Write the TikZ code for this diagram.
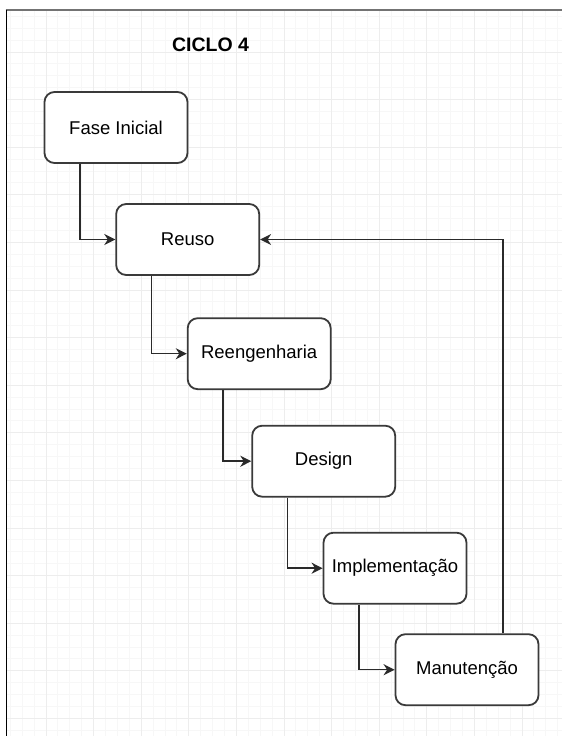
\documentclass[tikz,border=0pt]{standalone}
\usepackage{fontspec}
\setmainfont{Liberation Sans}
\usetikzlibrary{arrows.meta,calc}

\definecolor{gridminor}{HTML}{F7F7F7}
\definecolor{gridmajor}{HTML}{EDEDED}
\definecolor{boxline}{HTML}{3A3A3A}
\definecolor{wireline}{HTML}{2A2A2A}

\tikzset{
  phase/.style={draw=boxline, line width=1.8pt, fill=white, rounded corners=10pt,
    minimum width=143pt, minimum height=71pt, inner sep=0pt,
    font=\fontsize{18.5}{22}\selectfont, text=black},
  flow/.style={draw=wireline, line width=1.5pt,
    -{Stealth[length=11pt,width=11pt,inset=3.5pt]}},
  title/.style={font=\fontsize{19.5}{23}\bfseries\selectfont, text=black}
}

\begin{document}
\begin{tikzpicture}[x=1pt,y=-1pt]
  \useasboundingbox (0,0) rectangle (562,736);
  \fill[white] (0,0) rectangle (562,736);

  % background grid (minor and major lines)
  \begin{scope}
    \clip (7,11) rectangle (562,736);
    \foreach \j in {-3,...,43}
      \draw[gridminor, line width=1pt] ({46+11.9*\j},0) -- ({46+11.9*\j},736);
    \foreach \j in {-3,...,57}
      \draw[gridminor, line width=1pt] (0,{52+11.9*\j}) -- (562,{52+11.9*\j});
    \foreach \k in {0,...,11}
      \draw[gridmajor, line width=1pt] ({46+47.6*\k},0) -- ({46+47.6*\k},736);
    \foreach \k in {-1,...,15}
      \draw[gridmajor, line width=1pt] (0,{52+47.6*\k}) -- (562,{52+47.6*\k});
  \end{scope}

  % frame edges
  \draw[color=black!55, line width=2pt] (5.5,10) -- (562,10);
  \draw[color=black, line width=1.6pt] (6.3,9.5) -- (6.3,736);

  % title
  \node[title] (ttl) at (210.5,45) {CICLO 4};

  % phases
  \node[phase] (fi) at (116,127.5) {Fase Inicial};
  \node[phase] (re) at (187.7,239.5) {Reuso};
  \node[phase] (rg) at (259.2,353.7) {Reengenharia};
  \node[phase] (ds) at (323.7,461.2) {Design};
  \node[phase] (im) at (395,568.2) {Implementação};
  \node[phase] (mn) at (467,669.7) {Manutenção};

  % cascade connectors
  \draw[flow] ($(fi.south west)!0.25!(fi.south east)$) |- (re.west);
  \draw[flow] ($(re.south west)!0.25!(re.south east)$) |- (rg.west);
  \draw[flow] ($(rg.south west)!0.25!(rg.south east)$) |- (ds.west);
  \draw[flow] ($(ds.south west)!0.25!(ds.south east)$) |- (im.west);
  \draw[flow] ($(im.south west)!0.25!(im.south east)$) |- (mn.west);

  % feedback loop back to reuse
  \draw[flow] ($(mn.north west)!0.75!(mn.north east)$) |- (re.east);
\end{tikzpicture}
\end{document}
